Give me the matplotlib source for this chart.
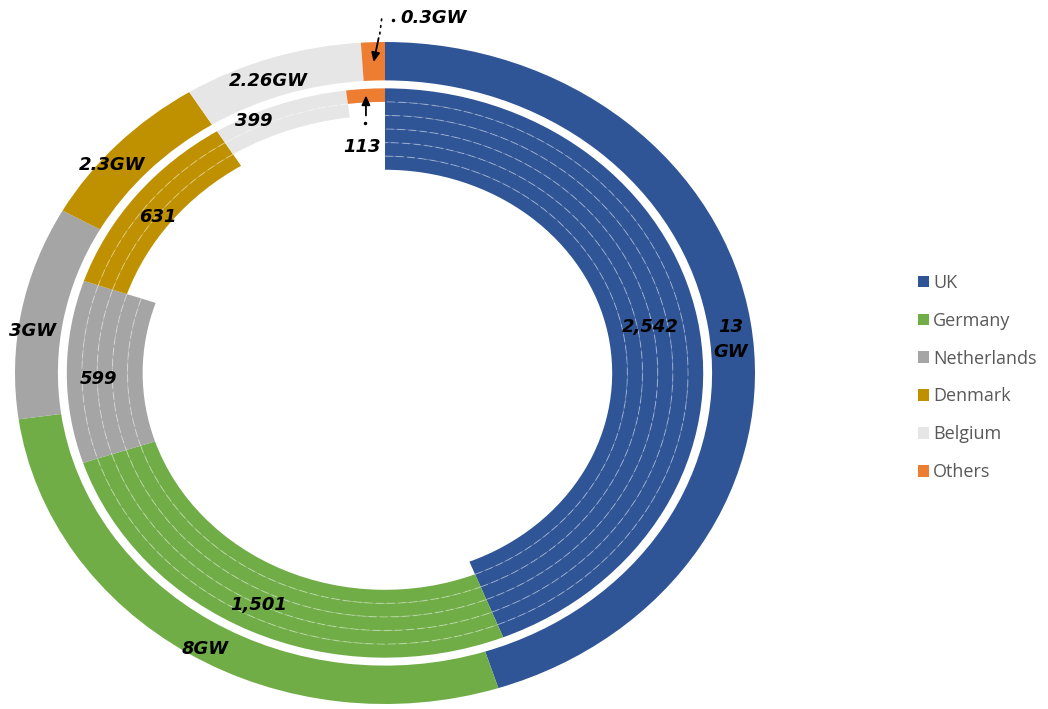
import matplotlib
matplotlib.use("Agg")
import matplotlib.pyplot as plt
from matplotlib.patches import Arc, Patch
import numpy as np

# ---- data ---------------------------------------------------------------
countries = ["UK", "Germany", "Netherlands", "Denmark", "Belgium", "Others"]
capacity_gw = [13, 8, 3, 2.3, 2.26, 0.3]
capacity_labels = ["13\nGW", "8GW", "3GW", "2.3GW", "2.26GW", "0.3GW"]
turbines = [2542, 1501, 599, 631, 399, 113]
turbine_labels = ["2,542", "1,501", "599", "631", "399", "113"]
inner_bands = [6, 5, 5, 3, 2, 1]          # number of stacked inner rings per country
colors = ["#2F5597", "#70AD47", "#A5A5A5", "#BF9000", "#E7E6E6", "#ED7D31"]

# ---- layout -------------------------------------------------------------
W, H = 1048, 709
CX, CY, RX, RY = 385, 373, 370, 331        # ring centre and radii in pixels
OUTER_W = 0.116
INNER_TOP = 0.86
BAND_W = 0.041

fig = plt.figure(figsize=(W / 100, H / 100), dpi=100)
ax = fig.add_axes([0, 0, 1, 1])

label_font = dict(family="DejaVu Sans", fontweight="bold", fontstyle="italic",
                  fontsize=13, color="black")

# outer ring: installed capacity
outer_wedges, _ = ax.pie(capacity_gw, radius=1.0, colors=colors, startangle=90,
                         counterclock=False,
                         wedgeprops=dict(width=OUTER_W, linewidth=0))

# inner rings: turbine counts, stacked bands
inner_wedges = None
for k in range(max(inner_bands)):
    band_colors = [c if n > k else "none" for c, n in zip(colors, inner_bands)]
    w, _ = ax.pie(turbines, radius=INNER_TOP - k * BAND_W, colors=band_colors,
                  startangle=90, counterclock=False,
                  wedgeprops=dict(width=BAND_W, linewidth=0))
    if inner_wedges is None:
        inner_wedges = w

ax.set_aspect("auto")
ax.set_xlim(-CX / RX, (W - CX) / RX)
ax.set_ylim(-(H - CY) / RY, CY / RY)
ax.axis("off")

# faint dashed separators between the stacked bands
for wedge, n in zip(inner_wedges, inner_bands):
    for k in range(1, n):
        r = INNER_TOP - k * BAND_W
        ax.add_patch(Arc((0, 0), 2 * r, 2 * r, theta1=wedge.theta1,
                         theta2=wedge.theta2, color="white", lw=0.8,
                         alpha=0.35, linestyle=(0, (7, 3))))


def mid_point(wedge, r):
    a = np.deg2rad((wedge.theta1 + wedge.theta2) / 2)
    return r * np.cos(a), r * np.sin(a)


def shifted(pt, dx, dy):
    """Data point moved by (dx, dy) screen pixels."""
    disp = ax.transData.transform(pt)
    return ax.transData.inverted().transform((disp[0] + dx, disp[1] + dy))


outer_r = [0.94, 0.96, 0.96, 0.965, 0.94]
outer_nudge = [(2, -15), (9, -7), (-3, -17), (-15, -13), (-10, -4)]
inner_r = [0.73, 0.785, 0.78, 0.78, 0.83]
inner_nudge = [(0, 0), (-4, 4), (2, -7), (-1, -5), (-29, -7)]
for i in range(5):
    p = shifted(mid_point(outer_wedges[i], outer_r[i]), *outer_nudge[i])
    ax.text(*p, capacity_labels[i], ha="center", va="center",
            linespacing=1.5, **label_font)
    p = shifted(mid_point(inner_wedges[i], inner_r[i]), *inner_nudge[i])
    ax.text(*p, turbine_labels[i], ha="center", va="center", **label_font)

# small "Others" slices: labels outside with arrows
arrow = dict(arrowstyle="-|>,head_length=0.55,head_width=0.25", color="black",
             lw=1.3, shrinkA=0, shrinkB=0)
dots = dict(arrowstyle="-", color="black", lw=1.2, linestyle=(0, (1, 3)),
            shrinkA=0, shrinkB=0)

tip = mid_point(outer_wedges[5], 0.94)
ax.annotate("", xy=tip, xytext=shifted(tip, 5, 24), arrowprops=arrow)
ax.annotate("", xy=shifted(tip, 6, 27), xytext=shifted(tip, 8, 43), arrowprops=dots)
ax.plot(*shifted(tip, 19, 42), marker="o", ms=1.5, color="black")
ax.text(*shifted(tip, 27, 44), capacity_labels[5], ha="left", va="center",
        **label_font)

tip = mid_point(inner_wedges[5], 0.84)
ax.annotate("", xy=tip, xytext=shifted(tip, 0, -20), arrowprops=arrow)
ax.plot(*shifted(tip, -1, -28), marker="o", ms=1.5, color="black")
ax.text(*shifted(tip, -4, -52), turbine_labels[5], ha="center", va="center",
        **label_font)

# legend
handles = [Patch(facecolor=c, edgecolor="none", label=n)
           for c, n in zip(colors, countries)]
fig.legend(handles=handles, loc="center left",
           bbox_to_anchor=(909 / W, 1 - 377.5 / H), frameon=False,
           prop=dict(family="Open Sans", size=13), labelcolor="#595959",
           handlelength=0.6, handleheight=0.6, handletextpad=0.25,
           labelspacing=1.1, borderpad=0)

fig.savefig("out.png", dpi=100)
